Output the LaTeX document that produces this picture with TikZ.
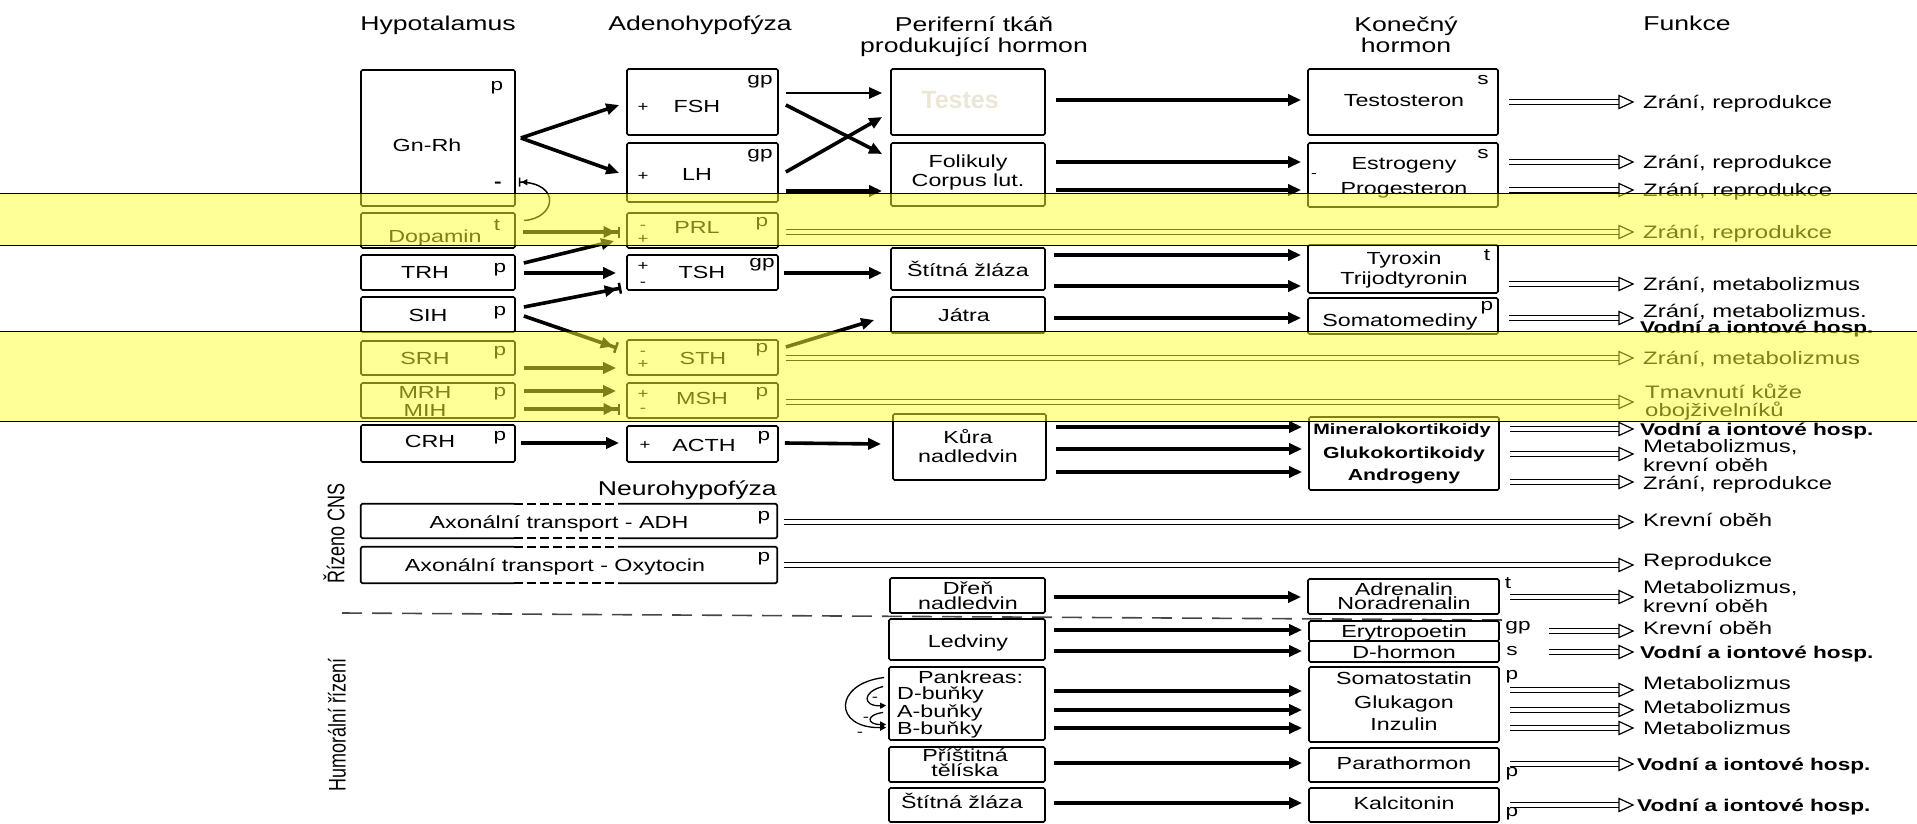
\documentclass[tikz,border=0pt]{standalone}
\usepackage{fontspec}
\setmainfont{Liberation Sans}[FakeStretch=1.33]
\newfontfamily\rotfont{Liberation Sans}[FakeStretch=0.75]
\newfontfamily\ghostfont{Liberation Sans}
\usetikzlibrary{arrows.meta,fit,calc}
\definecolor{bandy}{RGB}{255,255,50}
\definecolor{ghost}{RGB}{236,230,214}
\definecolor{dgray}{RGB}{70,70,70}
\newcommand\funarr[3][10]{%
  \draw[fl] ($(#2.east |- #3)+(#1,0)$) -- ([xshift=-11pt]#3);
  \draw[fh] (#3) -- ++(-14,-6.5) -- ++(0,13) -- cycle;}
\tikzset{
 bx/.style={draw, line width=1.7pt, rounded corners=1.5pt, inner sep=0pt},
 tx/.style={font=\fontsize{17.5}{18.5}\selectfont, inner sep=0pt, text height=12.5pt, text depth=0pt},
 txb/.style={font=\bfseries\fontsize{16}{17}\selectfont, inner sep=0pt, text height=11.5pt, text depth=0pt},
 sl/.style={font=\fontsize{17}{18}\selectfont, inner sep=0pt, text height=6pt, text depth=0pt},
 pm/.style={font=\fontsize{14}{15}\selectfont, inner sep=0pt, text height=4pt, text depth=0pt, yshift=-2.5pt},
 hd/.style={font=\fontsize{20}{21}\selectfont, inner sep=0pt, text height=14.3pt, text depth=0pt},
 fn/.style={font=\fontsize{18}{19}\selectfont, inner sep=0pt, anchor=west, text height=12.9pt, text depth=0pt},
 fb/.style={font=\bfseries\fontsize{17}{18}\selectfont, inner sep=0pt, anchor=west, text height=12.2pt, text depth=0pt},
 rot/.style={font=\rotfont\fontsize{24}{25}\selectfont, inner sep=0pt, rotate=90},
 ar/.style={line width=3.6pt, -{Triangle[length=13pt,width=11pt]}},
 inh/.style={line width=3.6pt, -{Triangle[length=12pt,width=11pt,sep=2pt]Bar[width=11pt,line width=2.5pt]}},
 fl/.style={double, double distance=3.6pt, line width=1.1pt},
 fh/.style={line width=1.2pt, fill=white},
 arc/.style={line width=1.3pt, -{Triangle[length=6pt,width=6pt]}},
 fbk/.style={line width=1.5pt, -{Triangle[length=6pt,width=6pt,sep=1pt]Bar[width=9pt,line width=1.5pt]}},
 band/.style={draw=black, line width=1pt, fill=bandy, fill opacity=0.5},
 bl/.style={line width=1.7pt},
}
\begin{document}
\begin{tikzpicture}[x=1pt,y=-1pt]
\useasboundingbox (0,0) rectangle (1917,824);
% ---------- headers
\node[hd] (hHyp) at (438,23) {Hypotalamus};
\node[hd] (hAde) at (700,23) {Adenohypofýza};
\node[hd] (hPer1) at (974,24) {Periferní tkáň};
\node[hd] (hPer2) at (974,45) {produkující hormon};
\node[hd] (hKon1) at (1406,24) {Konečný};
\node[hd] (hKon2) at (1406,45) {hormon};
\node[hd] (hFun) at (1687,23) {Funkce};
% ---------- hypothalamus boxes
\node[bx, fit={(361,70)(515,206)}] (gnrh) {};
\node[bx, fit={(361,213)(515,248)}] (dop) {};
\node[bx, fit={(361,255)(515,290)}] (trh) {};
\node[bx, fit={(361,297)(515,332)}] (sih) {};
\node[bx, fit={(361,341)(515,375)}] (srh) {};
\node[bx, fit={(361,383)(515,418)}] (mrh) {};
\node[bx, fit={(361,425)(515,462)}] (crh) {};
\node[tx] (tGn) at (427,145) {Gn-Rh};
\node[sl] (pGn) at (497,88) {p};
\node[pm, font=\bfseries\fontsize{17}{18}\selectfont] (mGn) at (498,183) {-};
\node[tx] (tDop) at (435,236) {Dopamin};
\node[sl] (pDop) at (497,227) {t};
\node[tx] (tTRH) at (425,272) {TRH};
\node[sl] (pTRH) at (500,269) {p};
\node[tx] (tSIH) at (428,315) {SIH};
\node[sl] (pSIH) at (500,312) {p};
\node[tx] (tSRH) at (425,358) {SRH};
\node[sl] (pSRH) at (500,352) {p};
\node[tx] (tMRH) at (425,392) {MRH};
\node[tx] (tMIH) at (425,410) {MIH};
\node[sl] (pMRH) at (500,393) {p};
\node[tx] (tCRH) at (430,441) {CRH};
\node[sl] (pCRH) at (500,437) {p};
% ---------- adenohypophysis boxes
\node[bx, fit={(627,69)(778,135)}] (fsh) {};
\node[bx, fit={(627,143)(778,202)}] (lh) {};
\node[bx, fit={(627,213)(778,248)}] (prl) {};
\node[bx, fit={(627,255)(778,290)}] (tsh) {};
\node[bx, fit={(627,340)(778,375)}] (sth) {};
\node[bx, fit={(627,383)(778,418)}] (msh) {};
\node[bx, fit={(627,426)(778,462)}] (acth) {};
\node[tx] (tFSH) at (697,106) {FSH};
\node[pm] (aFSH) at (643,107) {+};
\node[sl] (gFSH) at (760,82) {gp};
\node[tx] (tLH) at (697,174) {LH};
\node[pm] (aLH) at (643,176) {+};
\node[sl] (gLH) at (760,155) {gp};
\node[tx] (tPRL) at (697,227) {PRL};
\node[pm] (aPRL) at (643,225) {-};
\node[pm] (bPRL) at (643,239) {+};
\node[sl] (pPRL) at (762,223) {p};
\node[tx] (tTSH) at (702,272) {TSH};
\node[pm] (aTSH) at (643,266) {+};
\node[pm] (bTSH) at (643,282) {-};
\node[sl] (gTSH) at (762,264) {gp};
\node[tx] (tSTH) at (703,358) {STH};
\node[pm] (aSTH) at (643,351) {-};
\node[pm] (bSTH) at (643,364) {+};
\node[sl] (pSTH) at (762,349) {p};
\node[tx] (tMSH) at (702,398) {MSH};
\node[pm] (aMSH) at (643,394) {+};
\node[pm] (bMSH) at (643,408) {-};
\node[sl] (pMSH) at (762,393) {p};
\node[tx] (tACTH) at (704,445) {ACTH};
\node[pm] (aACTH) at (645,445) {+};
\node[sl] (pACTH) at (764,437) {p};
% ---------- neurohypophysis
\node[hd, anchor=east] (hNeu) at (777,488) {Neurohypofýza};
\coordinate (dL) at (514,0);
\coordinate (dR) at (618,0);
\node[inner sep=0pt, fit={(361,504)(777,538)}] (adh) {};
\node[inner sep=0pt, fit={(361,547)(777,583)}] (oxy) {};
\foreach \b in {adh,oxy}{
  \draw[bl, rounded corners=1.5pt] (\b.north -| dL) -- (\b.north west) -- (\b.south west) -- (\b.south -| dL);
  \draw[bl, rounded corners=1.5pt] (\b.north -| dR) -- (\b.north east) -- (\b.south east) -- (\b.south -| dR);
  \draw[bl, dash pattern=on 9pt off 4pt] (\b.north -| dL) -- (\b.north -| dR);
  \draw[bl, dash pattern=on 9pt off 4pt] (\b.south -| dL) -- (\b.south -| dR);
}
\node[tx] (tADH) at (559,522) {Axonální transport - ADH};
\node[sl] (pADH) at (764,517) {p};
\node[tx] (tOXY) at (555,565) {Axonální transport - Oxytocin};
\node[sl] (pOXY) at (764,558) {p};
\node[rot] (rCNS) at (334,533) {Řízeno CNS};
\node[rot] (rHum) at (337,725) {Humorální řízení};
\coordinate (dl1) at (342,613);
\coordinate (dl2) at (1502,620);
\draw[line width=1.6pt, dgray, dash pattern=on 20pt off 10pt] (dl1) -- (dl2);
% ---------- peripheral tissue boxes
\node[bx, fit={(891,69)(1045,135)}] (testes) {};
\node[bx, fit={(891,143)(1045,206)}] (folik) {};
\node[bx, fit={(891,248)(1045,290)}] (stit) {};
\node[bx, fit={(891,297)(1045,333)}] (jatra) {};
\node[bx, fit={(893,414)(1046,480)}] (kura) {};
\node[bx, fit={(890,578)(1045,613)}] (dren) {};
\node[bx, fit={(889,619)(1045,660)}] (ledv) {};
\node[bx, fit={(889,667)(1045,740)}] (pank) {};
\node[bx, fit={(889,747)(1045,782)}] (prist) {};
\node[bx, fit={(889,788)(1045,822)}] (stit2) {};
\node[font=\ghostfont\bfseries\fontsize{25}{25}\selectfont, text=ghost, inner sep=0pt] (tTes) at (960,100) {Testes};
\node[tx] (tFol1) at (968,161) {Folikuly};
\node[tx] (tFol2) at (968,180) {Corpus lut.};
\node[tx] (tStit) at (968,270) {Štítná žláza};
\node[tx] (tJat) at (964,315) {Játra};
\node[tx] (tKur1) at (968,437) {Kůra};
\node[tx] (tKur2) at (968,456) {nadledvin};
\node[tx] (tDre1) at (968,588) {Dřeň};
\node[tx] (tDre2) at (968,603) {nadledvin};
\node[tx] (tLed) at (968,641) {Ledviny};
\node[tx, anchor=west] (tPan) at (918,677) {Pankreas:};
\node[tx, anchor=west] (tPanD) at (897,693) {D-buňky};
\node[tx, anchor=west] (tPanA) at (897,711) {A-buňky};
\node[tx, anchor=west] (tPanB) at (897,728) {B-buňky};
\node[tx] (tPri1) at (965,755) {Příštitná};
\node[tx] (tPri2) at (965,770) {tělíska};
\node[tx] (tStit2) at (962,802) {Štítná žláza};
% ---------- final hormone boxes
\node[bx, fit={(1308,69)(1498,135)}] (testo) {};
\node[bx, fit={(1308,143)(1498,207)}] (estro) {};
\node[bx, fit={(1308,245)(1498,293)}] (tyrox) {};
\node[bx, fit={(1308,298)(1498,334)}] (somed) {};
\node[bx, fit={(1309,417)(1499,490)}] (miner) {};
\node[bx, fit={(1308,579)(1499,614)}] (adren) {};
\node[bx, fit={(1309,621)(1499,641)}] (eryt) {};
\node[bx, fit={(1309,641)(1499,662)}] (dhorm) {};
\node[bx, fit={(1309,667)(1499,742)}] (somst) {};
\node[bx, fit={(1309,748)(1499,782)}] (parat) {};
\node[bx, fit={(1309,788)(1499,822)}] (kalc) {};
\node[tx] (tTesto) at (1404,100) {Testosteron};
\node[sl] (sTesto) at (1483,82) {s};
\node[tx] (tEst) at (1404,163) {Estrogeny};
\node[tx] (tPro) at (1404,188) {Progesteron};
\node[sl] (sEst) at (1483,156) {s};
\node[font=\fontsize{13}{13}\selectfont, inner sep=0pt] (mEst) at (1314,176) {-};
\node[tx] (tTyr1) at (1404,258) {Tyroxin};
\node[tx] (tTyr2) at (1404,278) {Trijodtyronin};
\node[sl] (tTyr) at (1487,257) {t};
\node[tx] (tSom) at (1400,320) {Somatomediny};
\node[sl] (pSom) at (1487,307) {p};
\node[txb, font=\bfseries\fontsize{15}{16}\selectfont] (tMin) at (1402,429) {Mineralokortikoidy};
\node[txb] (tGlu) at (1404,453) {Glukokortikoidy};
\node[txb] (tAnd) at (1404,475) {Androgeny};
\node[tx] (tAdr1) at (1404,589) {Adrenalin};
\node[tx] (tAdr2) at (1404,603) {Noradrenalin};
\node[sl] (tAdr) at (1508,585) {t};
\node[tx] (tEry) at (1404,631) {Erytropoetin};
\node[tx] (tDho) at (1404,652) {D-hormon};
\node[sl] (gEry) at (1518,627) {gp};
\node[sl] (sDho) at (1512,652) {s};
\node[tx] (tSst) at (1404,678) {Somatostatin};
\node[tx] (tGlk) at (1404,702) {Glukagon};
\node[tx] (tInz) at (1404,724) {Inzulin};
\node[sl] (pSst) at (1512,676) {p};
\node[tx] (tPar) at (1404,763) {Parathormon};
\node[sl] (pPar) at (1512,773) {p};
\node[tx] (tKal) at (1404,803) {Kalcitonin};
\node[sl] (pKal) at (1512,813) {p};
% ---------- functions
\node[fn] (f1) at (1643,102) {Zrání, reprodukce};
\node[fn] (f2) at (1643,162) {Zrání, reprodukce};
\node[fn] (f3) at (1643,190) {Zrání, reprodukce};
\node[fn] (f4) at (1643,232) {Zrání, reprodukce};
\node[fn] (f5) at (1643,284) {Zrání, metabolizmus};
\node[fn] (f6) at (1643,311) {Zrání, metabolizmus.};
\node[fb] (f6b) at (1640,327) {Vodní a iontové hosp.};
\node[fn] (f7) at (1643,358) {Zrání, metabolizmus};
\node[fn] (f8a) at (1645,392) {Tmavnutí kůže};
\node[fn] (f8b) at (1645,410) {obojživelníků};
\node[fb] (f9) at (1640,429) {Vodní a iontové hosp.};
\node[fn] (f10a) at (1643,446) {Metabolizmus,};
\node[fn] (f10b) at (1643,465) {krevní oběh};
\node[fn] (f11) at (1643,483) {Zrání, reprodukce};
\node[fn] (f12) at (1643,520) {Krevní oběh};
\node[fn] (f13) at (1643,560) {Reprodukce};
\node[fn] (f14a) at (1643,587) {Metabolizmus,};
\node[fn] (f14b) at (1643,606) {krevní oběh};
\node[fn] (f15) at (1643,628) {Krevní oběh};
\node[fb] (f16) at (1640,652) {Vodní a iontové hosp.};
\node[fn] (f17) at (1643,683) {Metabolizmus};
\node[fn] (f18) at (1643,707) {Metabolizmus};
\node[fn] (f19) at (1643,728) {Metabolizmus};
\node[fb] (f20) at (1637,764) {Vodní a iontové hosp.};
\node[fb] (f21) at (1637,805) {Vodní a iontové hosp.};
\foreach \n/\y in {1/102,2/162,3/190,4/232,5/284,6/318,7/358,8/402,9/429,10/454,11/482,12/522,13/565,14/597,15/631,16/652,17/690,18/710,19/728,20/764,21/805}{
  \coordinate (k\n) at (1633,\y);}
\funarr{testo}{k1}
\funarr{estro}{k2}
\funarr{estro}{k3}
\funarr[7]{prl}{k4}
\funarr{tyrox}{k5}
\funarr{somed}{k6}
\funarr[7]{sth}{k7}
\funarr[7]{msh}{k8}
\funarr{miner}{k9}
\funarr{miner}{k10}
\funarr{miner}{k11}
\funarr[7]{adh}{k12}
\funarr[7]{oxy}{k13}
\funarr{adren}{k14}
\funarr[49]{eryt}{k15}
\funarr[49]{dhorm}{k16}
\funarr{somst}{k17}
\funarr{somst}{k18}
\funarr{somst}{k19}
\funarr{parat}{k20}
\funarr{kalc}{k21}
% ---------- hormone arrows
\draw[ar] ($(gnrh.east)+(5,0)$) -- ($(fsh.west)+(-7,3)$);
\draw[ar] ($(gnrh.east)+(5,0)$) -- ($(lh.west)+(-7,0.5)$);
\draw[ar, line width=2.6pt] ($(fsh.east)+(7,-9)$) -- ($(testes.west)+(-8,-9)$);
\draw[ar] ($(fsh.east)+(7,3)$) -- ($(folik.west)+(-8,-20.5)$);
\draw[ar] ($(lh.east)+(7,-0.5)$) -- ($(testes.west)+(-8,15)$);
\draw[ar] ($(lh.east)+(7,18.5)$) -- ($(folik.west)+(-8,16.5)$);
\draw[ar] ($(testes.east)+(10,-2)$) -- ($(testo.west)+(-6,-2)$);
\draw[ar] ($(folik.east)+(10,-12.5)$) -- ($(estro.west)+(-6,-13)$);
\draw[ar] ($(folik.east)+(10,15.5)$) -- ($(estro.west)+(-6,15)$);
\draw[inh] ($(dop.east)+(7,1.5)$) -- ($(prl.west)+(-6,1.5)$);
\draw[ar] ($(trh.east)+(8,-9.5)$) -- ($(prl.west)+(-12,10.5)$);
\draw[ar] ($(trh.east)+(8,0.5)$) -- ($(tsh.west)+(-10,0.5)$);
\draw[inh] ($(sih.east)+(8,-7.5)$) -- ($(tsh.west)+(-5,15.5)$);
\draw[inh] ($(sih.east)+(8,1.5)$) -- ($(sth.west)+(-9,-9.5)$);
\draw[ar] ($(srh.east)+(8,10)$) -- ($(sth.west)+(-10,10.5)$);
\draw[ar] ($(mrh.east)+(8,-9.5)$) -- ($(msh.west)+(-10,-9.5)$);
\draw[inh] ($(mrh.east)+(8,8.5)$) -- ($(msh.west)+(-6,8.5)$);
\draw[ar] ($(crh.east)+(5,-0.5)$) -- ($(acth.west)+(-7,-1)$);
\draw[ar] ($(tsh.east)+(5,0.5)$) -- ($(stit.west)+(-8,4)$);
\draw[ar] ($(sth.east)+(7,-10.5)$) -- ($(jatra.west)+(-16,5)$);
\draw[ar] ($(acth.east)+(6,-1)$) -- ($(kura.west)+(-11,-3)$);
\draw[ar] ($(stit.east)+(8,-14)$) -- ($(tyrox.west)+(-6,-14)$);
\draw[ar] ($(stit.east)+(8,17)$) -- ($(tyrox.west)+(-6,17)$);
\draw[ar] ($(jatra.east)+(8,3)$) -- ($(somed.west)+(-6,2)$);
\draw[ar] ($(kura.east)+(9,-20)$) -- ($(miner.west)+(-6,-26.5)$);
\draw[ar] ($(kura.east)+(9,2)$) -- ($(miner.west)+(-6,-4.5)$);
\draw[ar] ($(kura.east)+(9,25)$) -- ($(miner.west)+(-6,18.5)$);
\draw[ar] ($(dren.east)+(8,1.5)$) -- ($(adren.west)+(-6,0.5)$);
\draw[ar] ($(ledv.east)+(8,-9.5)$) -- ($(eryt.west)+(-6,-1)$);
\draw[ar] ($(ledv.east)+(8,11.5)$) -- ($(dhorm.west)+(-6,-0.5)$);
\draw[ar] ($(pank.east)+(8,-12.5)$) -- ($(somst.west)+(-6,-13.5)$);
\draw[ar] ($(pank.east)+(8,6.5)$) -- ($(somst.west)+(-6,5.5)$);
\draw[ar] ($(pank.east)+(8,24.5)$) -- ($(somst.west)+(-6,23.5)$);
\draw[ar] ($(prist.east)+(8,-1.5)$) -- ($(parat.west)+(-6,-2)$);
\draw[ar] ($(stit2.east)+(8,-2)$) -- ($(kalc.west)+(-6,-2)$);
% ---------- feedback loops
\draw[fbk] ($(dop.east)+(8,-10)$) .. controls ($(dop.east)+(40,-12)$) and ($(gnrh.east)+(46,45)$) .. ($(gnrh.east)+(3,44)$);
\draw[arc] ($(pank.west)+(-4,-26)$) .. controls ($(pank.west)+(-55,-20)$) and ($(pank.west)+(-55,25)$) .. ($(pank.west)+(-2,24)$);
\draw[arc] ($(pank.west)+(-5,-17)$) .. controls ($(pank.west)+(-26,-12)$) and ($(pank.west)+(-26,3)$) .. ($(pank.west)+(-2,2)$);
\draw[arc] ($(pank.west)+(-5,9)$) .. controls ($(pank.west)+(-22,11)$) and ($(pank.west)+(-22,21)$) .. ($(pank.west)+(-2,21)$);
\node[pm] (mP1) at (875,697) {-};
\node[pm] (mP2) at (866,717) {-};
\node[pm] (mP3) at (860,732) {-};
% ---------- highlight bands
\path[band] (-2,193) rectangle (1919,245);
\path[band] (-2,331) rectangle (1919,421);
\end{tikzpicture}
\end{document}
